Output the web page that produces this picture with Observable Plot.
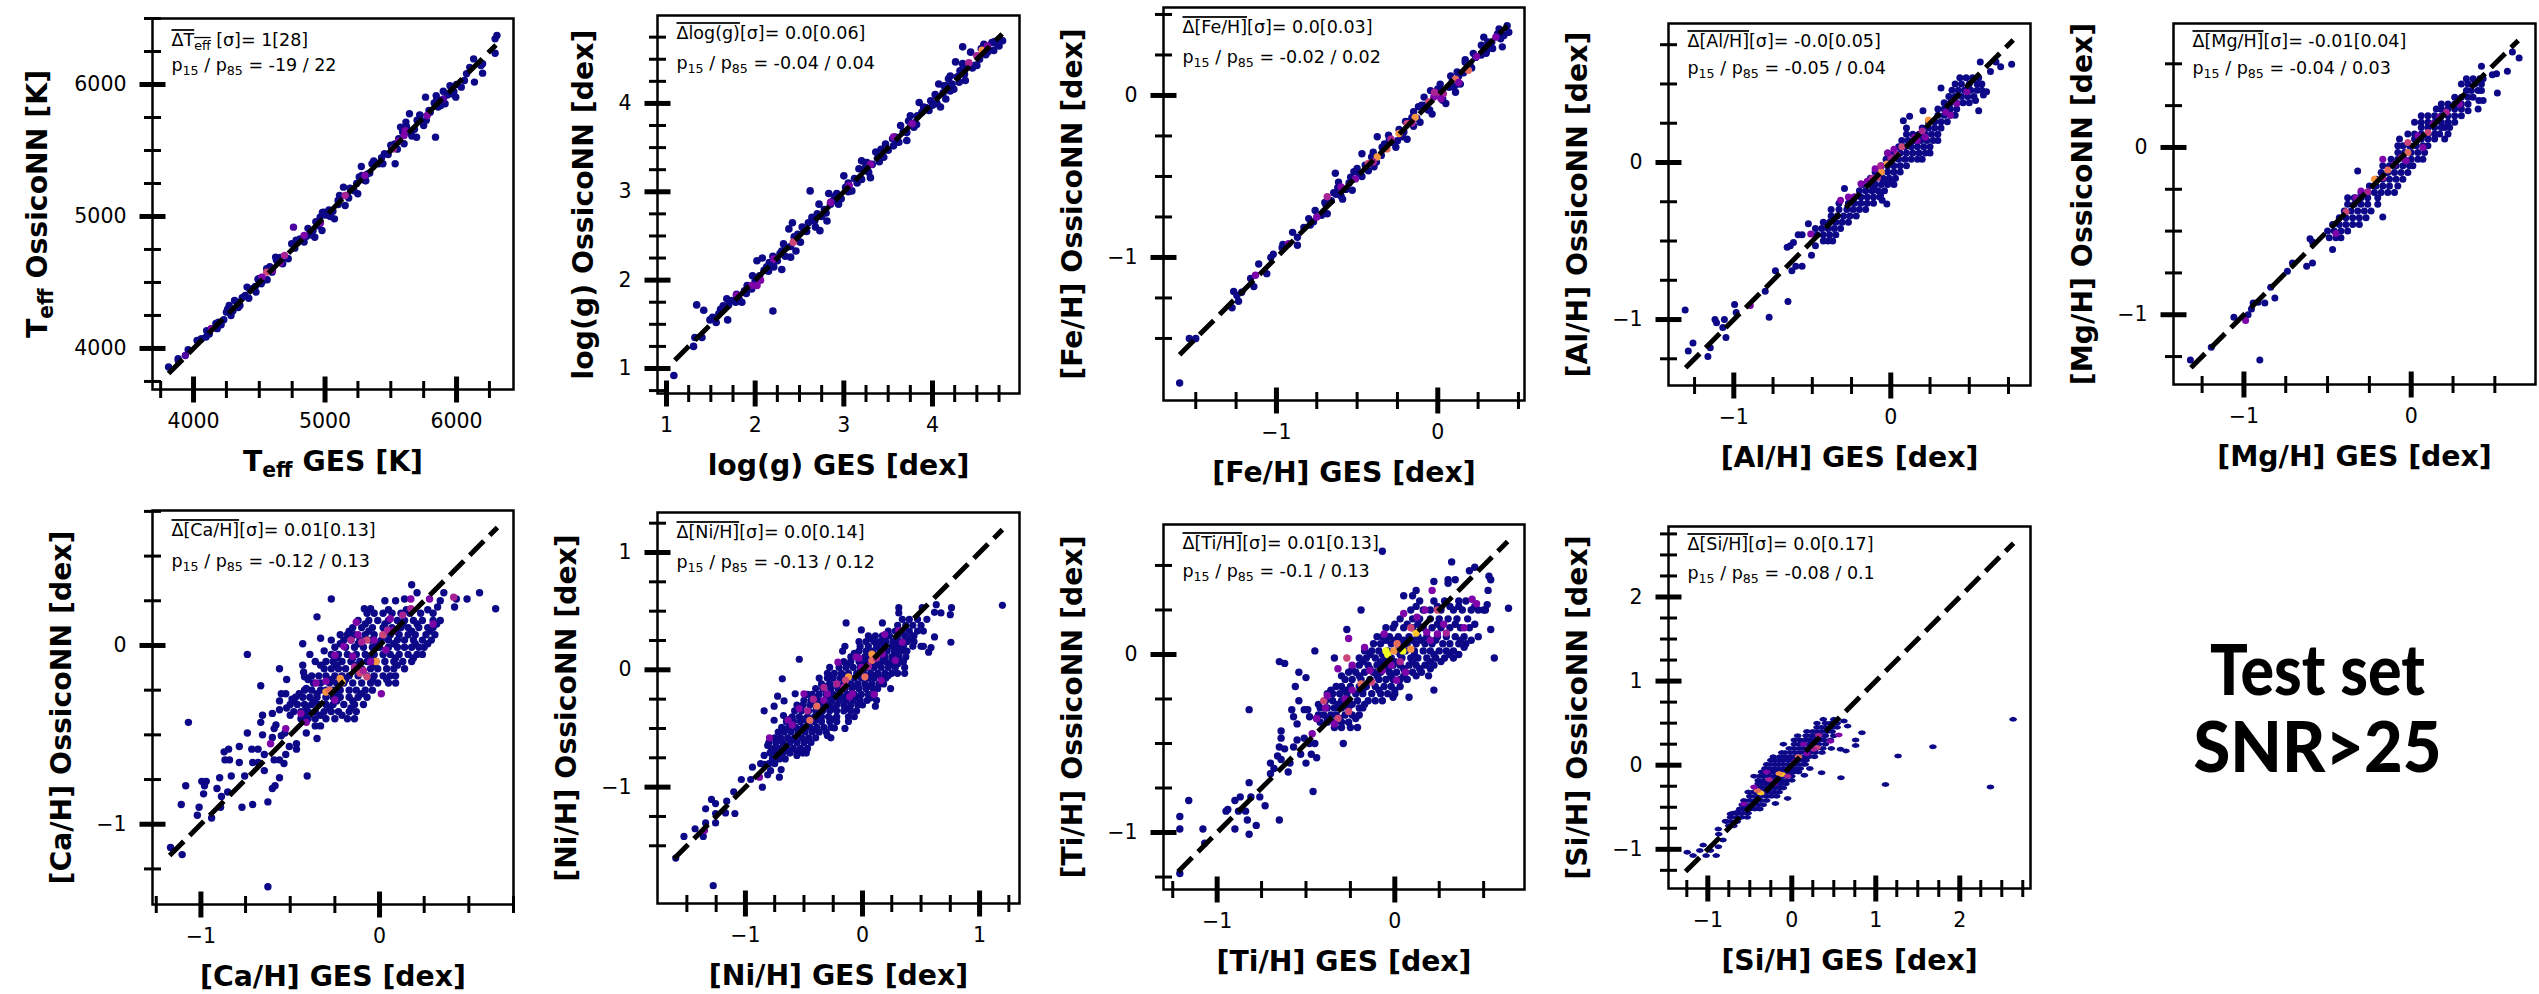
<!DOCTYPE html>
<html><head><meta charset="utf-8">
<script src="https://cdn.jsdelivr.net/npm/d3@7"></script>
<script src="https://cdn.jsdelivr.net/npm/@observablehq/plot@0.6"></script>
<style>html,body{margin:0;background:#fff}#fig{position:relative;width:2539px;height:994px;overflow:hidden;background:#fff}#fig svg{position:absolute;overflow:visible;max-width:none}</style>
</head><body><div id="fig"></div>
<script>
// --- data: rows are [y, x, x, ...], loose are flat x,y pairs, hot are [x,y,density]
const teffLoose=[3810,3859,3884,3909,3883,3922,3959,3990,4027,4061,4060,4073,4095,4086,4136,4149,4190,4199,4230,4217,4271,4326,4312,4364,4353,4326,4285,4250,4407,4465,4448,4452,4475,4427,4393,4402,4556,4604,4624,4692,4678,4641,4515,4490,4597,4578,4746,4793,4841,4806,4922,4843,4909,4894,4963,4995,4990,5033,5072,4982,4977,4894,5140,5222,5099,5121,5153,5083,5249,5172,5276,5379,5357,5399,5303,5273,5533,5399,5452,5475,5506,5513,5574,5677,5615,5715,5655,5626,5642,5778,5696,5600,5601,5551,5840,5601,5764,5904,5723,5765,5790,5803,5845,5916,5899,5949,5994,5904,5913,5854,5750,5689,6036,5980,6076,6081,6130,6194,6198,6157,6198,6086,6136,6018,6185,6144,6293,6237,6307,6371,6293,6346,
4050,4065,4120,4110,4170,4190,4210,4180,4250,4275,4300,4285,4330,4350,4370,4385,4430,4445,4470,4470,4500,4530,4530,4515,4580,4620,4600,4600,4640,4655,4660,4690,4700,4690,4770,4760,4790,4800,4810,4830,4860,4850,4890,4870,4930,4960,4950,4930,5010,5010,5030,5050,5060,5040,5100,5090,5120,5150,5170,5160,5190,5215,5220,5195,5240,5250,5280,5310,5320,5320,5340,5330,5380,5410,5410,5400,5430,5445,5480,5470,5530,5550,5560,5590,5590,5640,5630,5640,5680,5660,5700,5730,5740,5720,5800,5790,5830,5860,5860,5830,5880,5880,5930,5920,5960,5930,6000,6000,
4100,4135,4180,4150,4260,4300,4340,4310,4420,4380,4490,4525,4560,4520,4630,4670,4720,4680,4780,4820,4870,4910,4900,4860,4980,5030,5040,5000,5110,5160,5180,5140,5260,5300,5310,5270,5370,5420,5440,5400,5500,5540,5550,5510,5620,5680,5660,5610,5720,5770,5770,5730,5850,5890,5880,5840,5950,5990,5980,5945,6060,6030,6100,6130];
const teffHot=[[3938,3947,2],[4760,4919,2],[4841,4856,3],[4556,4578,5],[4692,4705,4],[5601,5614,3],[5520,5513,4],[4965,4950,3],[5303,5311,3],[5153,5159,4],[4136,4149,3],[5777,5765,3],[4600,4590,3],[4520,4540,3],[4660,4650,3],[5610,5650,3],[5560,5570,3],[5900,5890,2]];
const loggLoose=[1.083,.92,1.305,1.25,1.32,1.35,1.4,1.35,1.34,1.72,1.42,1.66,1.49,1.55,1.56,1.52,1.69,1.55,2.2,1.65,1.61,1.67,1.68,1.79,1.64,1.71,1.59,1.62,1.79,1.84,1.85,1.75,1.78,1.75,1.91,1.94,1.97,2.05,1.96,1.9,2.02,2.22,2.08,2.25,2.1,2.11,2.3,2.12,2.21,2.15,2.3,2.33,2.32,2.41,2.4,2.26,2.51,2.43,2.46,2.33,2.38,2.58,2.42,2.65,2.62,3.01,2.53,2.6,2.64,2.71,2.73,2.56,2.72,2.86,2.81,2.67,2.85,2.86,2.83,2.98,2.94,2.86,3,3.18,3.09,3.01,2.92,2.98,3.02,3.05,3.2,3.35,3.17,3.26,3.3,3.16,3.28,3.22,3.32,3.31,3.36,3.45,3.45,3.39,3.47,3.54,3.56,3.52,3.58,3.62,3.64,3.75,3.71,3.58,3.71,3.67,3.75,3.86,3.83,3.86,3.79,3.73,3.85,4.01,3.96,3.92,3.98,4.03,4.07,4.22,4.09,3.96,4.15,4.05,4.18,4.28,4.24,4.16,4.2,4.31,4.37,4.26,4.26,4.47,4.34,4.45,4.34,4.64,4.43,4.58,4.5,4.43,4.58,4.67,4.67,4.69,4.69,4.6,4.79,4.71,4.75,4.65,
1.52,1.58,1.7,1.72,1.74,1.77,1.88,1.88,2,1.99,2.05,2.05,2.13,2.15,2.16,2.2,2.25,2.22,2.28,2.3,2.35,2.37,2.4,2.38,2.48,2.52,2.55,2.57,2.58,2.55,2.67,2.67,2.7,2.75,2.75,2.72,2.78,2.8,2.88,2.9,2.97,2.92,3.05,3.1,3.12,3.15,3.15,3.1,3.22,3.25,3.25,3.3,3.38,3.38,3.42,3.48,3.5,3.47,3.6,3.58,3.67,3.68,3.73,3.8,3.8,3.78,3.88,3.9,3.93,3.95,4,3.98,4.03,4.1,4.12,4.12,4.16,4.2,4.22,4.22,4.28,4.3,4.31,4.37,4.36,4.33,4.4,4.42,4.45,4.4,4.53,4.5,4.55,4.62,4.62,4.58,4.7,4.7,4.73,4.67,
1.82,1.78,1.9,1.85,2.15,2.1,2.2,2.27,2.34,2.27,2.44,2.49,2.6,2.65,2.68,2.6,2.8,2.76,2.9,2.95,3.05,3,3.2,3.14,3.26,3.33,3.4,3.34,3.55,3.6,3.62,3.56,3.82,3.76,3.9,3.96,4.05,4,4.13,4.2,4.2,4.14,4.3,4.24,4.35,4.42,4.48,4.43,4.6,4.55];
const loggHot=[[4.56,4.6,7],[4.41,4.46,4],[4.5,4.54,4],[2.43,2.43,5],[2.21,2.24,3],[3.77,3.77,3],[3.56,3.62,3],[3.3,3.31,3],[3.06,3.07,3],[2.85,2.88,3],[2.06,2,3],[1.96,1.94,3],[1.79,1.83,3],[4.62,4.65,3],[2.02,1.94,3]];
const feLoose=[-1.6,-1.775,-1.54,-1.5,-1.5,-1.5,-1.275,-1.31,-1.235,-1.27,-1.265,-1.21,-1.215,-1.215,-1.245,-1.235,-1.14,-1.18,-1.16,-1.13,-1.11,-1.04,-1.06,-1.1,-1.035,-1,-1.02,-.98,-.965,-.94,-.87,-.925,-.9,-.845,-.87,-.875,-.83,-.815,-.77,-.78,-.76,-.71,-.685,-.73,-.695,-.67,-.645,-.6,-.615,-.535,-.635,-.48,-.59,-.64,-.53,-.585,-.54,-.505,-.5,-.45,-.47,-.36,-.43,-.465,-.395,-.44,-.375,-.255,-.345,-.32,-.305,-.245,-.26,-.32,-.22,-.255,-.19,-.27,-.21,-.225,-.15,-.1,-.16,-.135,-.11,-.165,-.12,-.07,-.035,-.115,-.085,-.01,-.045,.03,.015,.07,.05,-.05,.11,.02,.09,.09,.14,.07,.12,.145,.17,.205,.235,.235,.285,.36,.305,.28,.335,.33,.4,.3,.39,.35,.43,.43,.44,.39,
-.96,-.92,-.79,-.8,-.72,-.74,-.66,-.65,-.63,-.61,-.57,-.58,-.55,-.54,-.49,-.48,-.45,-.43,-.41,-.38,-.35,-.37,-.33,-.3,-.28,-.29,-.24,-.21,-.18,-.16,-.13,-.14,-.08,-.06,-.06,-.09,-.01,.01,.02,.03,.03,-.03,.07,.05,.1,.05,.13,.12,.16,.14,.2,.19,.22,.26,.27,.25,.31,.33,.34,.29,.37,.38,
-.8,-.76,-.7,-.66,-.62,-.57,-.6,-.62,-.52,-.47,-.47,-.5,-.4,-.35,-.38,-.41,-.3,-.27,-.25,-.28,-.2,-.16,-.15,-.19,-.1,-.06,-.05,-.09,0,.04,.03,-.02,.08,.12,.12,.07,.17,.22,.21,.17,.27,.31,.3,.26,.38,.41,.41,.37];
const feHot=[[-1.13,-1.11,3],[-.925,-.915,3],[-.14,-.135,7],[-.24,-.235,7],[-.375,-.38,7],[-.315,-.33,6],[.11,.1,6],[.19,.155,6],[-.19,-.175,5],[0,0,4],[-.055,-.04,5],[.035,.01,4],[-.43,-.42,5],[.24,.24,3],[-.685,-.625,4],[-.6,-.565,3],[-.51,-.515,3],[-.75,-.75,3],[.36,.36,3],[-.025,-.01,3],[-.02,.02,4],[.02,-.02,3],[-.16,-.17,4],[.13,.08,3],[-.29,-.27,4],[-.4,-.41,4]];
const alRows=[[.54,.44,.48,.52,.56],[.5,.41,.45,.5,.55,.58],[.46,.39,.43,.47,.51,.55,.58],[.42,.37,.41,.45,.49,.53],[.38,.34,.38,.42,.46,.5],[.34,.3,.34,.38,.42],[.3,.3,.34,.38,.41],[.26,.24,.28,.32,.36],[.22,.1,.2,.24,.28,.32],[.18,.1,.14,.18,.22,.26,.3],[.14,.07,.11,.15,.19,.23,.27,.3],[.1,.05,.09,.13,.17,.21,.25],[.06,-.02,.02,.06,.1,.14,.18,.22,.25],[.02,-.03,.01,.05,.09,.13,.17,.2],[-.02,-.06,-.02,.02,.06,.1],[-.06,-.1,-.06,-.02,.02,.06],[-.1,-.13,-.09,-.05,-.01,.03],[-.14,-.18,-.14,-.1,-.06,-.02,.02],[-.18,-.2,-.16,-.12,-.08,-.04],[-.22,-.23,-.19,-.15,-.11,-.07],[-.26,-.33,-.27,-.23,-.19,-.15,-.11],[-.3,-.38,-.33,-.28,-.24,-.2,-.16],[-.34,-.38,-.34,-.3,-.26,-.22],[-.38,-.43,-.39,-.35,-.31,-.27],[-.42,-.48,-.44,-.4,-.36,-.32],[-.46,-.47,-.43,-.39,-.35],[-.5,-.43,-.4,-.37]];
const alLoose=[.77,.625,.57,.64,.635,.58,.7,.61,.67,.64,.32,.475,.61,.45,.59,.43,.54,.395,.56,.33,.12,.295,.08,.265,.205,.33,-.295,-.165,-.525,-.39,-.59,-.46,-.565,-.46,-.62,-.51,-.66,-.54,-.64,-.53,-.48,-.53,-.505,-.59,-.735,-.69,-.565,-.66,-.605,-.66,-.63,-.69,-.8,-.82,-.655,-.885,-.995,-.905,-.985,-.955,-.775,-.985,-1.31,-.94,-1.12,-1,-1.11,-1.02,-1.06,-1,-1.07,-1.05,-1.05,-1.115,-1.26,-1.15,-1.29,-1.2,-1.15,-1.18,-1.165,-1.235,-.025,-.265,-.055,-.24,-.065,-.21,.01,-.115,-.045,-.125,-.11,-.155];
const alHot=[[-.895,-.91,3],[-.06,-.06,7],[-.025,-.01,7],[.24,.27,7],[.07,.1,5],[-.085,-.095,5],[0,.03,4],[.17,.14,3],[.2,.2,4],[.35,.32,3],[.485,.45,3],[.42,.375,3],[-.19,-.135,3],[-.32,-.24,3],[-.235,-.22,3],[.02,.085,3],[.15,.16,3],[-.1,-.04,3],[-.065,-.02,4],[-.51,-.455,3],[-.15,-.12,3],[-.27,-.22,3],[-.02,.06,3],[.04,.05,4],[.22,.16,3],[.38,.3,3],[-.12,-.1,4]];
const mgRows=[[.41,.33,.37,.41,.43],[.38,.3,.34,.38,.42],[.34,.33,.36,.4,.42],[.3,.26,.3,.34,.37],[.26,.18,.22,.26,.3,.34],[.23,.15,.18,.22,.26,.3],[.19,.06,.1,.14,.18,.22,.26,.3],[.15,.02,.06,.1,.14,.18,.22,.26],[.12,.06,.1,.14,.18,.2,.23],[.08,-.02,.02,.06,.1,.14,.17,.22],[.05,-.07,.02,.06,.1,.14,.2],[.01,-.08,-.05,-.01,.03,.07,.1],[-.03,-.08,-.04,0,.04,.08],[-.07,-.12,-.08,-.04,0,.04,.07],[-.11,-.17,-.13,-.09,-.05,-.01,.01],[-.15,-.18,-.14,-.1,-.06,-.02],[-.19,-.21,-.17,-.13,-.09,-.05],[-.23,-.25,-.21,-.17,-.13,-.08],[-.27,-.3,-.26,-.22,-.18,-.14,-.1],[-.3,-.38,-.34,-.3,-.26,-.2],[-.34,-.38,-.34,-.3,-.26,-.2],[-.38,-.4,-.36,-.32,-.28,-.24],[-.42,-.43,-.39,-.35,-.31,-.27],[-.46,-.47,-.43,-.39,-.35,-.31],[-.5,-.5,-.46,-.42,-.38],[-.54,-.49,-.45,-.42]];
const mgLoose=[.645,.535,.605,.57,.575,.455,.515,.325,.42,.485,.485,.435,.51,.44,.4,.23,.34,.22,.43,.28,.405,.28,-.32,-.14,-.17,-.415,-.47,-.61,-.605,-.545,-.59,-.565,-.625,-.71,-.59,-.69,-.71,-.69,-.74,-.74,-.84,-.835,-.815,-.9,-.875,-.93,-.945,-.93,-.955,-.965,-.915,-.925,-1.06,-1.015,-.975,-1,-1.195,-1.195,-.905,-1.27,-1.32,-1.27];
const mgHot=[[-.99,-1.035,3],[-.02,-.03,6],[-.14,-.135,6],[-.22,-.19,7],[-.02,.03,5],[.1,.09,5],[-.17,-.18,4],[-.26,-.265,4],[-.39,-.385,5],[.21,.21,4],[-.06,-.06,4],[.13,.14,3],[.29,.26,3],[-.33,-.3,3],[-.03,-.08,3],[.07,0,3],[-.17,-.07,3],[-.45,-.515,3],[-.3,-.26,3],[-.1,-.1,3],[.04,.07,3],[.17,.18,3]];
const caRows=[[.2,.05,.15,.27],[.18,-.03,.02,.07,.12,.17,.23,.3],[.14,-.12,-.06,-.01,.05,.1,.14,.19,.24,.3,.34],[.12,-.08,.03,.13,.21,.32],[.1,-.15,-.1,-.04,.02,.07,.12,.16,.22,.27,.3],[.08,-.17,-.06,.09,.18,.28],[.06,-.18,-.14,-.08,-.03,.02,.06,.11,.16,.2,.26,.31],[.03,-.2,-.16,-.11,-.05,.01,.05,.1,.14,.19,.24,.29],[.01,-.22,-.12,-.02,.08,.2,.27],[-.01,-.25,-.19,-.14,-.09,-.04,0,.05,.1,.14,.18,.22,.25],[-.05,-.27,-.23,-.18,-.13,-.08,-.03,.02,.06,.11,.16,.21,.24],[-.07,-.24,-.15,-.05,.09,.19],[-.09,-.3,-.26,-.21,-.16,-.11,-.07,-.02,.03,.08,.13,.18],[-.11,-.33,-.24,-.13,-.03,.1],[-.13,-.31,-.27,-.23,-.19,-.14,-.1,-.05,-.01,.04,.08,.14],[-.17,-.38,-.34,-.3,-.25,-.21,-.17,-.12,-.07,-.03,.02,.06,.09],[-.19,-.4,-.27,-.19,-.04,.04],[-.21,-.37,-.33,-.28,-.24,-.2,-.15,-.1,-.05,-.01,.05,.09],[-.25,-.42,-.38,-.33,-.3,-.26,-.22,-.17,-.13,-.08,-.04],[-.27,-.45,-.35,-.24,-.1],[-.29,-.47,-.43,-.39,-.35,-.3,-.26,-.22,-.17,-.12,-.07],[-.31,-.48,-.37,-.24,-.15],[-.33,-.5,-.46,-.42,-.38,-.34,-.3,-.26,-.2,-.14,-.09],[-.35,-.52,-.41,-.28,-.16],[-.37,-.48,-.44,-.4,-.36,-.31,-.27,-.23,-.17,-.13],[-.39,-.5,-.42,-.33,-.21],[-.41,-.44,-.4,-.36,-.3,-.25,-.18,-.14],[-.45,-.36,-.33]];
const caLoose=[.18,.34,.21,.295,-.27,.26,.03,.25,.09,.25,.14,.26,.36,.295,.43,.26,.49,.26,.56,.295,.65,.205,.42,.215,.34,.25,.325,.215,-.085,.205,-.05,.205,-.07,.18,-.35,.16,-.33,.04,-.43,.01,-.27,.03,-.22,.06,-.74,-.05,-.39,-.05,-.31,-.03,-.36,-.09,-.43,-.11,-.425,-.15,-.42,-.175,-.56,-.13,-.52,-.19,-.665,-.225,-.41,-.24,-.55,-.27,-.525,-.27,-.56,-.31,-.49,-.3,-1.07,-.43,-.655,-.39,-.6,-.38,-.56,-.36,-.665,-.43,-.58,-.445,-.59,-.465,-.74,-.49,-.655,-.5,-.6,-.515,-.55,-.505,-.53,-.49,-.41,-.49,-.35,-.52,-.87,-.595,-.845,-.58,-.785,-.565,-.715,-.58,-.68,-.58,-.505,-.565,-.465,-.55,-.465,-.58,-.645,-.61,-.525,-.61,-.865,-.64,-.84,-.64,-.785,-.655,-.71,-.655,-.68,-.655,-.59,-.64,-.56,-.64,-.535,-.66,-.645,-.7,-.405,-.73,-.56,-.74,-.755,-.73,-.83,-.73,-.895,-.74,-.995,-.76,-.97,-.76,-.98,-.785,-1.085,-.785,-.585,-.785,-.6,-.8,-.91,-.8,-.985,-.83,-.85,-.82,-.885,-.845,-1.11,-.89,-1.01,-.905,-.77,-.905,-.71,-.89,-.625,-.875,-.89,-.905,-1.02,-.95,-.94,-.965,-1.17,-1.13,-1.105,-1.17,-.625,-1.35];
const caHot=[[-.525,-.465,3],[-.61,-.55,3],[-.21,-.205,8],[-.22,-.185,7],[-.3,-.26,7],[-.28,-.25,6],[-.02,-.09,7],[.02,.06,5],[-.07,.03,5],[-.11,-.155,5],[-.07,-.175,5],[-.14,-.12,4],[.13,.17,4],[.175,.205,4],[-.13,.13,3],[.06,.15,3],[-.12,.06,3],[-.2,-.005,3],[.035,-.025,3],[-.05,-.09,3],[-.25,-.055,3],[-.355,-.21,3],[.01,-.27,3],[-.25,-.305,3],[-.44,-.38,3],[-.41,-.43,3],[.175,.26,3],[.28,.26,3],[.415,.27,4],[.3,.12,3],[.045,.085,4],[.08,.085,3],[-.16,.03,4],[-.1,.02,4],[-.09,-.14,4],[-.15,-.06,3],[-.03,.03,3],[-.3,-.2,3]];
const niRows=[[.43,.34,.4,.47,.55],[.38,.3,.37,.43,.5],[.33,.22,.28,.34,.4,.47,.52],[.29,.05,.11,.17,.23,.3,.36,.42,.44],[.26,.08,.18,.29,.41],[.24,-.03,.03,.1,.15,.2,.26,.32,.38,.44],[.2,-.15,-.02,.05,.12,.18,.25,.3,.35,.43,.5,.52],[.16,-.17,-.03,.03,.09,.15,.21,.27,.33,.38],[.14,-.07,.06,.18,.3],[.11,-.1,-.05,.02,.07,.13,.19,.25,.31,.37],[.07,-.16,-.1,-.03,.03,.09,.15,.2,.26,.32,.35],[.05,-.13,0,.12,.24,.3],[.02,-.28,-.2,-.14,-.08,-.02,.04,.1,.16,.22,.28,.36],[-.03,-.3,-.24,-.18,-.12,-.05,.01,.07,.13,.19,.25,.3,.36],[-.05,-.27,-.15,-.02,.1,.22],[-.07,-.37,-.3,-.25,-.19,-.13,-.07,-.01,.05,.1,.16,.2],[-.12,-.35,-.28,-.22,-.16,-.1,-.04,.02,.08,.14,.18],[-.14,-.31,-.19,-.06,.06],[-.16,-.4,-.34,-.27,-.21,-.15,-.09,-.03,.03,.09,.13],[-.21,-.47,-.43,-.37,-.31,-.25,-.19,-.13,-.07,-.01,.05,.1],[-.24,-.41,-.29,-.17,-.05,.07],[-.26,-.5,-.44,-.38,-.32,-.26,-.2,-.14,-.08,-.02,.04,.12],[-.3,-.56,-.51,-.45,-.4,-.34,-.28,-.22,-.16,-.1,-.04,0],[-.33,-.53,-.37,-.25,-.13],[-.35,-.58,-.52,-.46,-.4,-.34,-.28,-.22,-.16,-.1,-.05],[-.4,-.6,-.54,-.47,-.41,-.35,-.29,-.22,-.12,-.07],[-.42,-.62,-.5,-.38,-.25],[-.44,-.65,-.59,-.53,-.47,-.41,-.35,-.28,-.22,-.12],[-.49,-.69,-.63,-.57,-.51,-.45,-.39,-.33,-.27],[-.51,-.66,-.54,-.41],[-.53,-.72,-.67,-.61,-.55,-.49,-.43,-.37,-.31],[-.58,-.75,-.7,-.64,-.58,-.52,-.46,-.4],[-.6,-.72,-.61,-.48],[-.62,-.8,-.74,-.68,-.62,-.56,-.5,-.44],[-.67,-.76,-.71,-.65,-.59,-.53,-.47],[-.69,-.78,-.65,-.5],[-.71,-.79,-.74,-.68,-.62,-.56,-.48],[-.76,-.77,-.71,-.66],[-.8,-.87,-.8,-.75]];
const niLoose=[1.195,.55,.76,.53,.75,.47,.755,.235,.63,.555,.615,.49,.67,.485,.51,.53,.31,.53,.31,.485,-.14,.4,.17,.4,-.01,.34,.615,.28,-.54,.09,-.685,-.077,.585,.19,.565,.15,.24,-.16,.11,-.31,-.15,-.5,-.24,-.495,-.84,-.35,-.755,-.31,-.725,-.225,-.67,-.265,-.575,-.205,-.755,-.43,-.675,-.39,-.3,-.56,-.27,-.58,-.56,-.73,-.51,-.71,-.81,-.645,-.84,-.73,-.94,-.83,-.84,-.805,-.81,-.895,-.71,-.915,-.695,-.85,-.785,-.86,-1.035,-.935,-.955,-.935,-.855,-1,-1.1,-1.04,-1.09,-1.225,-1.16,-1.12,-1.17,-1.22,-1.29,-1.105,-1.255,-1.14,-1.34,-1.185,-1.255,-1.225,-1.43,-1.355,-1.34,-1.305,-1.255,-1.305,-1.525,-1.42,-1.36,-1.42,-1.595,-1.605,-1.275,-1.84];
const niHot=[[-.795,-.58,3],[.08,.135,7],[.08,.08,6],[-.12,-.06,7],[-.145,-.09,5],[-.39,-.31,6],[-.45,-.43,6],[.02,-.06,6],[.19,.3,3],[.34,.235,3],[.31,.335,3],[.17,.135,3],[.28,.08,3],[.16,-.09,3],[.1,-.21,3],[-.21,.065,3],[-.055,.11,3],[-.01,.02,3],[-.16,-.15,4],[-.33,-.15,4],[-.3,-.205,3],[-.5,-.205,3],[-.54,-.33,3],[-.635,-.43,3],[-.33,-.26,3],[-.085,-.205,3],[-.88,-.915,3],[-1.35,-1.37,3],[-.11,-.23,3],[.12,.1,4],[-.03,.1,3],[.05,.03,4],[-.22,-.12,4],[-.42,-.25,4],[-.47,-.35,4],[-.6,-.47,3]];
const tiRows=[[.3,.14,.22,.28,.36,.4],[.27,.12,.24,.31,.36,.45],[.25,.09,.16,.2,.26,.33,.38,.43,.5],[.2,.03,.1,.14,.2,.25,.3,.35,.41],[.17,0,.07,.13,.24,.34,.45],[.15,-.05,-.01,.05,.1,.16,.21,.26,.31,.37,.42],[.1,-.1,-.07,-.03,.02,.08,.13,.18,.24,.29,.34,.39,.47],[.08,-.05,0,.05,.1,.15,.23,.37,.43],[.06,-.12,-.08,-.02,.03,.07,.12,.17,.21,.27,.31,.36,.4],[.02,-.17,-.13,-.09,-.04,.01,.06,.11,.16,.2,.25,.29,.33],[0,-.14,-.07,.03,.11,.22,.31,.36],[-.02,-.2,-.16,-.11,-.05,-.02,.04,.09,.13,.18,.23,.28,.33],[-.04,-.18,-.08,0,.1,.2,.26],[-.06,-.2,-.15,-.1,-.06,-.01,.03,.08,.12,.17,.22],[-.08,-.24,-.14,-.04,.05,.14,.2],[-.1,-.26,-.22,-.17,-.12,-.08,-.03,.01,.06,.1,.15],[-.12,-.3,-.2,-.1,-.02,.05,.12],[-.14,-.28,-.24,-.19,-.14,-.09,-.05,-.01,.03,.07],[-.18,-.33,-.3,-.25,-.2,-.16,-.11,-.06,-.02,.03],[-.2,-.36,-.28,-.18,-.09,0],[-.22,-.38,-.35,-.31,-.27,-.22,-.18,-.13,-.08,-.04,0],[-.26,-.39,-.35,-.3,-.26,-.21,-.15,-.11,-.07],[-.28,-.43,-.32,-.24,-.17],[-.3,-.42,-.38,-.34,-.3,-.26,-.2,-.18],[-.34,-.43,-.4,-.36,-.33,-.28,-.24,-.2],[-.36,-.44,-.38,-.31,-.22],[-.38,-.42,-.38,-.34,-.3,-.26],[-.41,-.34,-.3,-.25,-.21]];
const tiLoose=[-.07,.58,.32,.52,.42,.47,.45,.49,.53,.44,.54,.42,.22,.41,.3,.42,.34,.42,.3,.4,.525,.36,.64,.26,.12,.36,.05,.33,.1,.33,-.19,.25,.52,.28,.47,.25,.51,.25,.54,.14,.56,-.02,-.27,.14,-.45,.02,-.34,-.02,.39,.04,.22,-.2,.19,-.12,.08,-.24,-.01,-.24,-.65,-.04,-.62,-.05,-.54,-.1,-.5,-.13,-.56,-.18,-.54,-.26,-.82,-.31,-.58,-.31,-.51,-.31,-.49,-.31,-.57,-.35,-.55,-.39,-.48,-.35,-.64,-.43,-.64,-.47,-.29,-.5,-.55,-.48,-.51,-.47,-.45,-.5,-.48,-.5,-.65,-.52,-.62,-.53,-.57,-.52,-.53,-.56,-.47,-.56,-.44,-.58,-.66,-.57,-.64,-.59,-.59,-.61,-.5,-.61,-.7,-.61,-.68,-.64,-.6,-.66,-.7,-.67,-.46,-.77,-.82,-.72,-.76,-.8,-.87,-.8,-.9,-.82,-.81,-.8,-1.16,-.82,-.73,-.85,-.94,-.87,-.95,-.88,-.88,-.88,-.84,-.88,-1.21,-.91,-1.21,-.98,-1.08,-.98,-.9,-.98,-.83,-.93,-.78,-.96,-.82,-1.01,-.65,-.93,-1.07,-1.06,-1.21,-1.23];
const tiHot=[[-.26,.09,3],[-.465,-.445,3],[-.05,.02,9],[-.04,0,9],[.045,.02,9],[.12,.12,8],[-.005,.02,7],[.09,.03,7],[.013,.06,6],[.09,.15,5],[-.27,-.02,5],[-.4,-.26,5],[-.32,-.36,5],[-.26,-.32,5],[-.19,-.165,6],[-.13,-.155,5],[.24,.25,5],[.21,.36,3],[.435,.31,3],[.46,.285,3],[.39,.15,3],[.05,.23,3],[.17,.25,3],[.18,.125,3],[.24,.115,3],[-.02,-.06,3],[.06,-.1,3],[.01,-.145,3],[-.17,.04,3],[-.32,-.08,3],[-.24,-.06,3],[-.24,-.2,3],[-.38,-.23,3],[-.39,-.3,3],[-.34,-.39,3],[-.44,-.36,3],[-.06,.115,3],[.125,.21,3],[.275,.17,3],[-.14,-.09,3],[.2,.08,3],[.29,.12,4],[-.07,-.09,3],[.03,-.04,4],[-.28,-.25,3]];
const siRows=[[.5,.3,.4,.46,.54],[.45,.3,.35,.4,.48,.54],[.4,.18,.25,.3,.36,.42,.48],[.35,.07,.17,.23,.28,.34,.4,.5],[.3,.03,.1,.16,.22,.28,.33,.38,.46],[.25,-.1,.03,.09,.15,.21,.26,.32,.4],[.2,-.03,.02,.08,.13,.19,.25,.3,.37,.47],[.15,-.12,-.08,-.02,.04,.1,.16,.22,.28,.36],[.1,-.22,-.14,-.08,-.02,.03,.09,.15,.2,.27],[.06,-.25,-.2,-.15,-.1,-.05,.01,.07,.13,.17],[.01,-.3,-.25,-.2,-.15,-.1,-.04,.02,.08,.14,.16],[-.04,-.32,-.27,-.21,-.16,-.1,-.05,0,.05,.1],[-.08,-.36,-.31,-.25,-.2,-.14,-.08,-.03,.02,.08],[-.13,-.45,-.38,-.33,-.27,-.21,-.16,-.1,-.05,0],[-.18,-.4,-.34,-.28,-.23,-.17,-.12,-.06,0],[-.22,-.4,-.35,-.3,-.24,-.18,-.13,-.07],[-.27,-.43,-.37,-.31,-.25,-.2,-.14,-.1],[-.32,-.52,-.46,-.4,-.33,-.27,-.21,-.15],[-.37,-.5,-.43,-.37,-.3,-.24,-.18],[-.42,-.57,-.5,-.44,-.37,-.3],[-.47,-.59,-.54,-.46,-.4,-.34],[-.52,-.62,-.56,-.5,-.44,-.38],[-.57,-.7,-.64,-.58,-.52],[-.62,-.73,-.66,-.6,-.53],[-.67,-.78,-.72,-.65],[-.72,-.75,-.69]];
const siLoose=[2.635,.545,1.68,.22,1.265,.11,1.115,-.23,2.365,-.26,.585,-.15,.355,-.09,.835,.385,.76,.3,.76,.235,.645,.17,.58,.19,.665,.465,.62,.525,.5,.545,.375,.545,.215,-.04,.15,-.12,-.05,-.395,-.195,-.455,-1.245,-1.035,-1.175,-1.075,-1.095,-1.015,-1.02,-1.075,-.9,-1.075,-.875,-.97,-1.055,-.95,-.97,-1.015,-.82,-.89,-.87,-.82,-.875,-.76,-.79,-.665,-.73,-.58,-.65,-.56];
const siHot=[[-.115,-.11,8],[-.15,-.1,7],[-.37,-.33,8],[-.41,-.3,6],[.08,.1,6],[.32,.355,4],[.3,.21,5],[.26,.19,4],[.14,.25,3],[-.3,-.08,3],[-.21,-.22,3],[-.45,-.26,3],[-.57,-.46,3],[.46,.285,3],[.56,.36,3],[.18,.135,3],[-.05,-.13,4],[.04,.05,3],[-.27,-.17,4]];
const xLabels=["T_{eff} GES [K]","log(g) GES [dex]","[Fe/H] GES [dex]","[Al/H] GES [dex]","[Mg/H] GES [dex]","[Ca/H] GES [dex]","[Ni/H] GES [dex]","[Ti/H] GES [dex]","[Si/H] GES [dex]"];
const yLabels=["T_{eff} OssicoNN [K]","log(g) OssicoNN [dex]","[Fe/H] OssicoNN [dex]","[Al/H] OssicoNN [dex]","[Mg/H] OssicoNN [dex]","[Ca/H] OssicoNN [dex]","[Ni/H] OssicoNN [dex]","[Ti/H] OssicoNN [dex]","[Si/H] OssicoNN [dex]"];
const notes1=["~{ΔT_{eff}} [σ]= 1[28]","~{Δlog(g)}[σ]= 0.0[0.06]","~{Δ[Fe/H]}[σ]= 0.0[0.03]","~{Δ[Al/H]}[σ]= -0.0[0.05]","~{Δ[Mg/H]}[σ]= -0.01[0.04]","~{Δ[Ca/H]}[σ]= 0.01[0.13]","~{Δ[Ni/H]}[σ]= 0.0[0.14]","~{Δ[Ti/H]}[σ]= 0.01[0.13]","~{Δ[Si/H]}[σ]= 0.0[0.17]"];
const notes2=["-19 / 22","-0.04 / 0.04","-0.02 / 0.02","-0.05 / 0.04","-0.04 / 0.03","-0.12 / 0.13","-0.13 / 0.12","-0.1 / 0.13","-0.08 / 0.1"];
const titleLines=["Test set","SNR>25"];
const q=[.25,.5,.75,-.25,-.5,-.75];
const teffMinor=[3750,4250,4500,4750,5250,5500,5750,6250];
const loggMinor=[1.25,1.5,1.75,2.25,2.5,2.75,3.25,3.5,3.75,4.25,4.5,4.75];
// --- panels: frame box on the page, scale domains, ticks, one-to-one line ends, note offsets
const panels=[
 {box:[152,513,18,389],xd:[3688,6433],yd:[3689,6500],maj:[4000,5000,6000],xmin:teffMinor,ymin:[...teffMinor,6500],line:[3810,6300],note:[22,47],ylab:-114.5,rows:[],loose:teffLoose,hot:teffHot,r:3.7},
 {box:[657,1019,15,393],xd:[.8985,4.981],yd:[.717,4.995],maj:[1,2,3,4],xmin:loggMinor,ymin:[.75,...loggMinor],line:[1.094,4.786],note:[18,48],ylab:-74,rows:[],loose:loggLoose,hot:loggHot,r:3.8},
 {box:[1163,1524,7,400],xd:[-1.7,.5375],yd:[-1.883,.543],maj:[-1,0],xmin:[-1.5,-1.25,-.75,-.5,-.25,.25,.5],ymin:[.5,.25,-.25,-.5,-.75,-1.25,-1.5],line:[-1.6,.43],note:[20,50],ylab:-91,rows:[],loose:feLoose,hot:feHot,r:3.7},
 {box:[1668,2030,23,385],xd:[-1.416,.89],yd:[-1.42,.885],maj:[-1,0],xmin:[-1.25,...q],ymin:[-1.25,...q],line:[-1.307,.78],note:[18,45],ylab:-91,rows:alRows,loose:alLoose,hot:alHot,r:3.5},
 {box:[2173,2535,23,384],xd:[-1.421,.743],yd:[-1.417,.741],maj:[-1,0],xmin:[-1.25,-.75,-.5,-.25,.25,.5],ymin:[-1.25,-.75,-.5,-.25,.25,.5],line:[-1.317,.64],note:[18,45],ylab:-91,rows:mgRows,loose:mgLoose,hot:mgHot,r:3.5},
 {box:[152,513,510,904],xd:[-1.271,.75],yd:[-1.449,.755],maj:[-1,0],xmin:[-1.25,...q],ymin:[-1.25,...q],line:[-1.175,.66],note:[20,51],ylab:-91,rows:caRows,loose:caLoose,hot:caHot,r:3.7},
 {box:[657,1019,512,903],xd:[-1.751,1.341],yd:[-1.992,1.341],maj:[-1,0,1],xmin:[-1.5,-1.25,...q,1.25],ymin:[-1.5,-1.25,...q,1.25],line:[-1.61,1.195],note:[20,50],ylab:-91,rows:niRows,loose:niLoose,hot:niHot,r:3.6},
 {box:[1163,1524,524,889],xd:[-1.302,.73],yd:[-1.32,.73],maj:[-1,0],xmin:[-1.25,-.75,-.5,-.25,.25,.5],ymin:[-1.25,-.75,-.5,-.25,.25,.5],line:[-1.22,.635],note:[19,47],ylab:-91,rows:tiRows,loose:tiLoose,hot:tiHot,r:3.7},
 {box:[1668,2030,526,888],xd:[-1.468,2.842],yd:[-1.466,2.838],maj:[-1,0,1,2],xmin:[-1.25,...q,1.25,1.5,1.75,2.25,2.5,2.75],ymin:[-1.25,...q,1.25,1.5,1.75,2.25,2.5,2.75],line:[-1.265,2.64],note:[18,47],ylab:-91,rows:siRows,loose:siLoose,hot:siHot,r:0}
];
const ink="#000";
const tickShape={draw(c,l){c.moveTo(0,0);c.lineTo(0,-l);}};
const flatOval={draw(c){[[4,0],[2.8,1.7],[0,2.5],[-2.8,1.7],[-4,0],[-2.8,-1.7],[0,-2.5],[2.8,-1.7]].forEach(([a,b],i)=>i?c.lineTo(a,b):c.moveTo(a,b));c.closePath();}};
function table(p){
  const out=[];
  p.rows.forEach(([y,...xs])=>xs.forEach(x=>out.push({x,y,c:1})));
  for(let i=0;i<p.loose.length;i+=2)out.push({x:p.loose[i],y:p.loose[i+1],c:1});
  p.hot.forEach(([x,y,c])=>out.push({x,y,c}));
  return out;
}
function rich(svg){
  svg.querySelectorAll("text").forEach(t=>{
    const s=t.textContent;
    if(!/[_~]\{/.test(s))return;
    t.textContent="";
    let back=null;
    const NS="http://www.w3.org/2000/svg";
    (function build(parent,str){
      const re=/([_~])\{((?:[^{}]|\{[^{}]*\})*)\}|([^_~]+|[_~])/g;let m;
      while((m=re.exec(str))){
        const ts=document.createElementNS(NS,"tspan");
        parent.appendChild(ts);
        if(m[3]!==undefined){
          ts.textContent=m[3];
          if(back){ts.setAttribute("dy",back);back=null;}
        }else if(m[1]==="_"){
          ts.textContent=m[2];ts.setAttribute("font-size","72%");
          ts.setAttribute("dy","0.3em");back="-0.216em";
        }else{
          ts.setAttribute("style","text-decoration:overline");
          build(ts,m[2]);
        }
      }
    })(t,s);
  });
}
const fig=document.getElementById("fig");
const mL=120,mR=4,mT=8,mB=100;
panels.forEach((p,i)=>{
  const [L,R,T,B]=p.box;
  const v=(opts)=>({stroke:ink,strokeLinecap:"butt",anchor:"middle",shape:tickShape,...opts});
  const fmt=d=>d3.format("d")(d);
  const chart=Plot.plot({
    width:R-L+mL+mR,height:B-T+mT+mB,marginLeft:mL,marginRight:mR,marginTop:mT,marginBottom:mB,
    style:{fontFamily:"DejaVu Sans",color:ink,background:"transparent",overflow:"visible"},
    x:{domain:p.xd},y:{domain:p.yd},
    color:{type:"linear",scheme:"plasma",domain:[1,9]},
    marks:[
      Plot.dot(table(p),{x:"x",y:"y",fill:"c",r:p.r||3,symbol:p.r?"circle":flatOval}),
      Plot.line([[p.line[0],p.line[0]],[p.line[1],p.line[1]]],{stroke:ink,strokeWidth:5,strokeDasharray:"20,8.3",strokeLinecap:"butt"}),
      Plot.frame({stroke:ink,strokeWidth:2.5}),
      Plot.vector(p.xmin,{x:d=>d,frameAnchor:"bottom",length:17,rotate:0,strokeWidth:3,...v({})}),
      Plot.vector(p.maj,{x:d=>d,frameAnchor:"bottom",length:26,rotate:0,strokeWidth:5,...v({})}),
      Plot.vector(p.ymin,{y:d=>d,frameAnchor:"left",length:17,rotate:90,strokeWidth:3,...v({})}),
      Plot.vector(p.maj,{y:d=>d,frameAnchor:"left",length:26,rotate:90,strokeWidth:5,...v({})}),
      Plot.axisX({ticks:p.maj,tickSize:0,tickPadding:24,fontSize:20.5,tickFormat:fmt,label:null}),
      Plot.axisY({ticks:p.maj,tickSize:0,tickPadding:26,fontSize:20.5,tickFormat:fmt,label:null}),
      Plot.text([xLabels[i]],{frameAnchor:"bottom",dy:72,fontSize:28.3,fontWeight:"bold",lineAnchor:"middle",fill:ink}),
      Plot.text([yLabels[i]],{frameAnchor:"left",dx:p.ylab,rotate:-90,fontSize:28.3,fontWeight:"bold",textAnchor:"middle",lineAnchor:"middle",fill:ink}),
      Plot.text([notes1[i]],{frameAnchor:"top-left",dx:19,dy:p.note[0],fontSize:17.5,textAnchor:"start",lineAnchor:"middle",fill:ink}),
      Plot.text(["p_{15} / p_{85} = "+notes2[i]],{frameAnchor:"top-left",dx:19,dy:p.note[1],fontSize:17.5,textAnchor:"start",lineAnchor:"middle",fill:ink})
    ]
  });
  rich(chart);
  chart.style.left=(L-mL)+"px";chart.style.top=(T-mT)+"px";
  fig.appendChild(chart);
});
const title=Plot.plot({
  width:340,height:180,margin:0,
  style:{fontFamily:"Lato",color:ink,background:"transparent",overflow:"visible"},
  marks:[
    Plot.text([titleLines[0]],{frameAnchor:"top",dy:52,fontSize:70,fontWeight:900,lineAnchor:"middle",fill:ink}),
    Plot.text([titleLines[1]],{frameAnchor:"top",dy:129,fontSize:70,fontWeight:900,lineAnchor:"middle",fill:ink})
  ]
});
title.querySelectorAll("text").forEach((t,k)=>{t.setAttribute("textLength",[215,248][k]);t.setAttribute("lengthAdjust","spacingAndGlyphs");});
title.style.left="2147px";title.style.top="620px";
fig.appendChild(title);
</script></body></html>
